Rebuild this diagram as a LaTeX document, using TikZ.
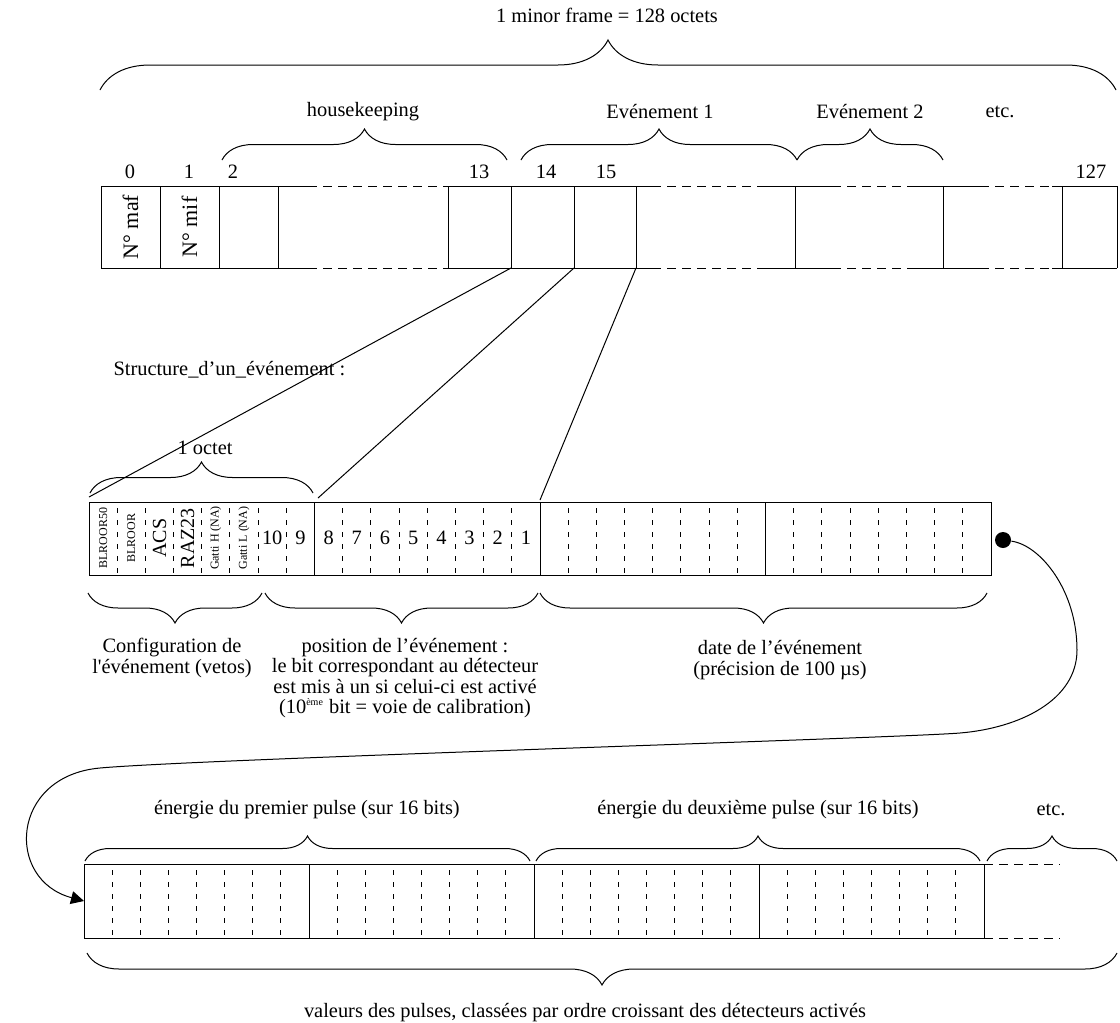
\documentclass[tikz,border=0pt]{standalone}
\usepackage{fontspec}
\setmainfont{Liberation Serif}
\usepackage{tikz}
\usetikzlibrary{arrows.meta,decorations.pathreplacing,calc}

\begin{document}
\begin{tikzpicture}[x=0.5pt,y=-0.5pt,line width=0.5pt,
  txt/.style={font=\fontsize{10.2}{10.1}\selectfont,inner sep=0pt,align=center},
  vtxt/.style={font=\fontsize{#1}{#1}\selectfont,inner sep=0pt,rotate=90},
  brc/.style={decorate,decoration={brace,amplitude=#1}},
  bitsep/.style={dash pattern=on 2.5pt off 3.5pt,dash phase=3pt},
  gap/.style={dash pattern=on 4.5pt off 3pt}]
\useasboundingbox (0,0) rectangle (1120,1023);

\node[txt] (frame) at (607,15) {1 minor frame = 128 octets};
\draw[brc=25pt] (100,90) -- (1116,90);
\node[txt] (hk) at (363,112) {housekeeping};
\node[txt] (ev1) at (660,112) {Evénement 1};
\node[txt] (ev2) at (870,112) {Evénement 2};
\node[txt] (etcA) at (1000,112) {etc.};
\draw[brc=15.5pt] (222,160) -- (507,160);
\draw[brc=15.5pt] (521,160) -- (797,160);
\draw[brc=15.5pt] (797,160) -- (943,160);

\foreach \n/\x in {0/130,1/189,2/233,13/479,14/546,15/606,127/1091}
  \node[txt] (idx\n) at (\x,172) {\n};
\foreach \x in {101,160,219,278,448,511,574,636,795,943,1062,1117}
  \draw (\x,186) -- (\x,268);
\foreach \y in {186,268}{
  \draw (101,\y) -- (308,\y) (447,\y) -- (652,\y) (760,\y) -- (832,\y) (910,\y) -- (980,\y) (1052,\y) -- (1117,\y);
  \draw[gap] (308,\y) -- (447,\y) (652,\y) -- (760,\y) (832,\y) -- (910,\y) (980,\y) -- (1052,\y);
}
\node[vtxt=11] (maf) at (130.5,227) {N° maf};
\node[vtxt=11] (mif) at (189.5,227) {N° mif};
\coordinate (o14) at (511,268);
\coordinate (o15) at (574,268);
\coordinate (o16) at (636,268);

\node[txt,anchor=west] (struct) at (113,370) {Structure\_d’un\_événement :};

\draw (89,502) rectangle (991,575);
\foreach \k in {1,2,3}
  \draw (89+225.5*\k,502) -- (89+225.5*\k,575);
\foreach \k in {0,...,3}
  \foreach \b in {1,...,7}
    \draw[bitsep] (89+225.5*\k+28.19*\b,502) -- ++(0,73);
\foreach \t/\s [count=\i from 0] in {BLROOR50/6,BLROOR/6,ACS/10,RAZ23/10,Gatti H (NA)/6,Gatti L (NA)/6}
  \node[vtxt=\s] (cfg\i) at (89+28.19*\i+14.1,538) {\t};
\foreach \n [count=\i from 6] in {10,9,8,7,6,5,4,3,2,1}
  \node[txt] (bit\n) at (89+28.19*\i+14.1,538) {\n};
\coordinate (e0) at (89,497);
\coordinate (e1) at (318,498);
\coordinate (e2) at (540,500);
\draw (o14) -- (e0);
\draw (o15) -- (e1);
\draw (o16) -- (e2);

\draw[brc=15.5pt] (90,493) -- (313,493);
\node[txt] (octet) at (205,448) {1 octet};

\draw[brc=15pt] (262,593) -- (88,593);
\draw[brc=15pt] (538,593) -- (265,593);
\draw[brc=15pt] (987,593) -- (540,593);
\node[txt] (conf) at (172,658) {Configuration de\\l\textquotesingle événement (vetos)};
\node[txt] (pos) at (405,678) {position de l’événement :\\le bit correspondant au détecteur\\est mis à un si celui-ci est activé\\(10\textsuperscript{\fontsize{5}{5}\selectfont ème} bit = voie de calibration)};
\node[txt] (date) at (780,660) {date de l’événement\\(précision de 100 µs)};

\node[circle,fill,inner sep=0pt,minimum size=8pt] (dot) at (1003,540) {};
\coordinate (pin) at (84,901);
\draw[-{Triangle[length=6.5pt,width=6.5pt]}] (dot) .. controls (1040,545) and (1077,590) .. (1077,650)
  .. controls (1077,700) and (1020,728) .. (960,733)
  .. controls (900,738) and (200,759) .. (100,768)
  .. controls (10,776) and (5,880) .. (pin);

\node[txt] (pulse1) at (307,810) {énergie du premier pulse (sur 16 bits)};
\node[txt] (pulse2) at (758,810) {énergie du deuxième pulse (sur 16 bits)};
\node[txt] (etcB) at (1051,810) {etc.};
\draw[brc=12.5pt] (85,861) -- (530,861);
\draw[brc=12.5pt] (536,861) -- (980,861);
\draw[brc=12.5pt] (987,861) -- (1117,861);

\draw (84,864) -- (984,864) (84,938) -- (984,938);
\draw[gap] (984,864) -- (1060,864) (984,938) -- (1060,938);
\foreach \k in {0,...,4}
  \draw (84+225*\k,864) -- ++(0,74);
\foreach \k in {0,...,3}
  \foreach \b in {1,...,7}
    \draw[bitsep] (84+225*\k+28.125*\b,864) -- ++(0,74);

\draw[brc=16pt] (1117,953) -- (87,953);
\node[txt] (vals) at (585,1013) {valeurs des pulses, classées par ordre croissant des détecteurs activés};
\end{tikzpicture}
\end{document}
